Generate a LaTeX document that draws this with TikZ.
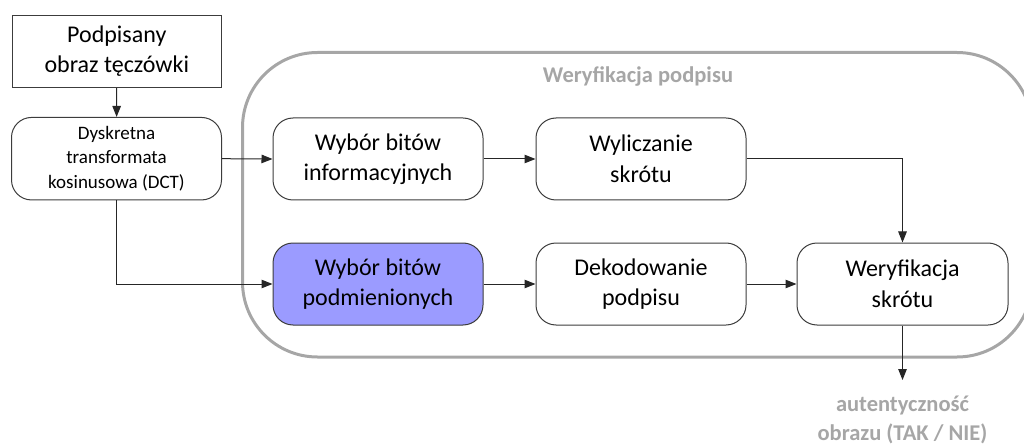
\documentclass[tikz,border=0pt]{standalone}
\usepackage{fontspec}
\setmainfont{Carlito}
\usetikzlibrary{arrows.meta}
\definecolor{framegray}{RGB}{166,166,166}
\definecolor{edgegray}{RGB}{60,60,60}
\definecolor{pickblue}{RGB}{155,155,255}
\tikzset{
  stage/.style={draw=edgegray, line width=1pt, rounded corners=20pt,
    minimum width=210pt, minimum height=82pt, align=center, inner sep=0pt,
    font=\fontsize{24}{30.5}\selectfont, text=black},
  flow/.style={draw=black!85, line width=1pt, -{Triangle[length=11pt,width=8.5pt]}},
  graylabel/.style={text=framegray, align=center,
    font=\fontsize{22.5}{28.5}\selectfont\bfseries},
}
\begin{document}
\begin{tikzpicture}[x=1pt, y=-1pt]
  \useasboundingbox (0,0) rectangle (1024,446);
  \clip (0,0) rectangle (1024,446);

  % signature verification block
  \draw[framegray, line width=3pt, rounded corners=75pt]
    (242.5,52.5) rectangle (1032,357);
  \node[graylabel, anchor=base] (title) at (638,83) {Weryfikacja podpisu};

  % input image and transform
  \node[draw=edgegray, line width=1pt, minimum width=209.5pt, minimum height=72.5pt,
        align=center, inner sep=0pt, font=\fontsize{24}{29.5}\selectfont]
        (src) at (116.8,51.3) {Podpisany\\obraz tęczówki};
  \node[stage, minimum height=82.5pt, font=\fontsize{19}{24.2}\selectfont]
        (dct) at (116.5,158.7) {Dyskretna\\transformata\\kosinusowa (DCT)};

  % processing stages
  \node[stage] (info) at (378,159) {Wybór bitów\\informacyjnych};
  \node[stage] (hash) at (641,159) {Wyliczanie\\skrótu};
  \node[stage, fill=pickblue] (pick) at (378,284) {Wybór bitów\\podmienionych};
  \node[stage] (dec) at (641,284) {Dekodowanie\\podpisu};
  \node[stage, minimum width=211pt] (ver) at (902.5,284) {Weryfikacja\\skrótu};

  % result
  \coordinate (res) at (902.5,380);
  \node[graylabel] (out) at (902.5,420) {autentyczność\\obrazu (TAK / NIE)};

  % connectors
  \draw[flow] (src) -- (dct);
  \draw[flow] (dct.east) -- (info.west);
  \draw[flow] (dct.south) |- (pick.west);
  \draw[flow] (info) -- (hash);
  \draw[flow] (pick) -- (dec);
  \draw[flow] (dec) -- (ver);
  \draw[flow] (hash.east) -| (ver.north);
  \draw[flow] (ver.south) -- (res);
\end{tikzpicture}
\end{document}
